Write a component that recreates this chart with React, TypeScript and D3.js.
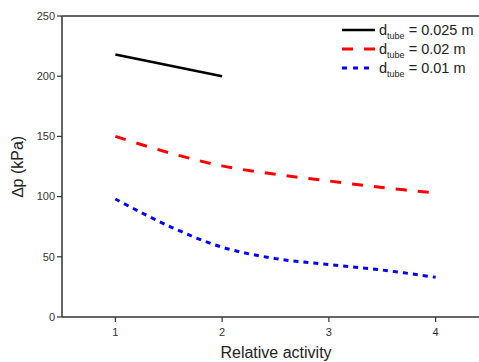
import React from "react";
import * as d3 from "d3";

const W = 479;
const H = 362;

// Relative activity on the x axis
const activityBlack = [1, 2];
const dpBlack = [218, 200];

const activityRed = [1, 1.5, 2, 2.5, 3, 3.5, 4];
const dpRed = [150, 136.5, 125.5, 118.5, 113, 107.5, 103];

const activityBlue = [1, 1.5, 2, 2.5, 3, 3.5, 4];
const dpBlue = [98, 75.5, 58, 48.5, 43.5, 39, 33];

const xTicks = [1, 2, 3, 4];
const yTicks = [0, 50, 100, 150, 200, 250];

const legendDiameters = ["0.025", "0.02", "0.01"];

const margin = { left: 62, top: 16, bottom: 45 };
const plotRight = 489;

export default function App() {
  const x = d3.scaleLinear().domain([0.5, 4.5]).range([margin.left, plotRight]);
  const y = d3.scaleLinear().domain([0, 250]).range([H - margin.bottom, margin.top]);

  const line = d3
    .line<[number, number]>()
    .x((d) => x(d[0]))
    .y((d) => y(d[1]))
    .curve(d3.curveCatmullRom.alpha(0.5));

  const series = [
    { xs: activityBlack, ys: dpBlack, color: "#000000", dash: "", width: 2.6 },
    { xs: activityRed, ys: dpRed, color: "#ff0000", dash: "11,11", width: 3 },
    { xs: activityBlue, ys: dpBlue, color: "#0000ff", dash: "5,5", width: 3 },
  ];

  const axisColor = "#333";
  const font = "'Liberation Sans', Arial, sans-serif";
  const y0 = y(0);

  return (
    <svg
      width={W}
      height={H}
      style={{ position: "absolute", left: 0, top: 0, background: "#fff" }}
      fontFamily={font}
    >
      {/* plot frame */}
      <line x1={margin.left} x2={W} y1={margin.top} y2={margin.top} stroke={axisColor} strokeWidth={1.5} />
      <line x1={margin.left} x2={margin.left} y1={margin.top} y2={y0} stroke={axisColor} strokeWidth={1.5} />
      <line x1={margin.left} x2={W} y1={y0} y2={y0} stroke={axisColor} strokeWidth={1.5} />

      {/* y axis ticks */}
      {yTicks.map((t) => (
        <g key={"y" + t}>
          <line x1={margin.left - 5} x2={margin.left} y1={y(t)} y2={y(t)} stroke={axisColor} strokeWidth={1.2} />
          <text x={margin.left - 7} y={y(t)} dy="0.35em" textAnchor="end" fontSize={11} fill="#333">
            {t}
          </text>
        </g>
      ))}

      {/* x axis ticks */}
      {xTicks.map((t) => (
        <g key={"x" + t}>
          <line x1={x(t)} x2={x(t)} y1={y0} y2={y0 + 5} stroke={axisColor} strokeWidth={1.2} />
          <text x={x(t)} y={y0 + 19} textAnchor="middle" fontSize={11} fill="#333">
            {t}
          </text>
        </g>
      ))}

      {/* axis titles */}
      <text x={276} y={358} textAnchor="middle" fontSize={16} fill="#222">
        Relative activity
      </text>
      <text
        transform={`translate(23, ${(margin.top + y0) / 2}) rotate(-90)`}
        textAnchor="middle"
        fontSize={16}
        fill="#222"
      >
        ∆p (kPa)
      </text>

      {/* curves */}
      {series.map((s, i) => (
        <path
          key={i}
          d={line(s.xs.map((v, j) => [v, s.ys[j]] as [number, number])) || ""}
          fill="none"
          stroke={s.color}
          strokeWidth={s.width}
          strokeDasharray={s.dash}
        />
      ))}

      {/* legend */}
      {series.map((s, i) => {
        const ly = 30 + i * 19;
        return (
          <g key={"lg" + i}>
            <line
              x1={342}
              x2={375}
              y1={ly}
              y2={ly}
              stroke={s.color}
              strokeWidth={s.width}
              strokeDasharray={i === 1 ? "11,11" : s.dash ? "5,6" : ""}
            />
            <text x={379} y={ly + 5} fontSize={14.5} fill="#222">
              d
              <tspan fontSize={9} dy={4}>tube</tspan>
              <tspan dy={-4}>{` = ${legendDiameters[i]} m`}</tspan>
            </text>
          </g>
        );
      })}
    </svg>
  );
}
